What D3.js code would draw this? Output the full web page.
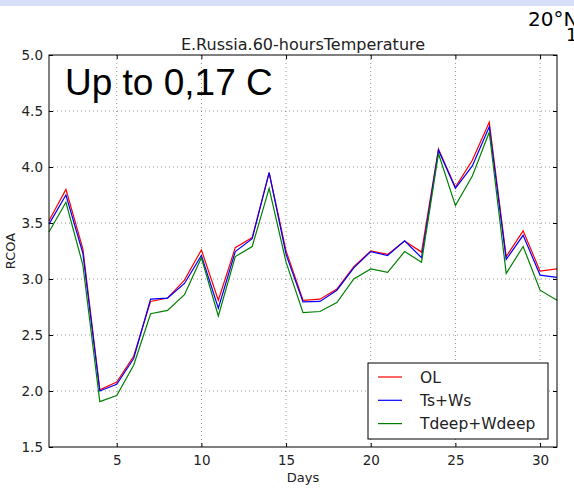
<!DOCTYPE html>
<html>
<head>
<meta charset="utf-8">
<script src="https://d3js.org/d3.v7.min.js"></script>
<style>
  body { margin: 0; background: #fff; }
  svg { display: block; font-family: "DejaVu Sans", sans-serif; }
</style>
</head>
<body>
<div id="chart"></div>
<script>

// Données (jours 1 à 31)
var jours = d3.range(1, 32);
var serieOL = [3.52, 3.80, 3.27, 2.01, 2.08, 2.31, 2.80, 2.83, 2.99, 3.26, 2.81, 3.28, 3.37, 3.95, 3.25, 2.81,
               2.82, 2.91, 3.11, 3.25, 3.22, 3.34, 3.24, 4.16, 3.82, 4.06, 4.40, 3.20, 3.43, 3.07, 3.09];
var serieTsWs = [3.49, 3.75, 3.23, 2.00, 2.06, 2.29, 2.82, 2.83, 2.96, 3.21, 2.74, 3.245, 3.36, 3.95, 3.22, 2.795,
                 2.80, 2.90, 3.10, 3.245, 3.21, 3.34, 3.19, 4.15, 3.81, 4.01, 4.36, 3.175, 3.39, 3.035, 3.015];
var serieTdeep = [3.42, 3.685, 3.125, 1.905, 1.96, 2.23, 2.69, 2.72, 2.86, 3.19, 2.67, 3.20, 3.29, 3.81, 3.15, 2.70,
                  2.71, 2.79, 3.00, 3.09, 3.06, 3.245, 3.15, 4.12, 3.655, 3.92, 4.31, 3.05, 3.29, 2.90, 2.81];
var noms = ["OL", "Ts+Ws", "Tdeep+Wdeep"];
var couleurs = ["#ff0000", "#0000ff", "#008000"];
var xTicks = [5, 10, 15, 20, 25, 30];
var yTicks = [1.5, 2.0, 2.5, 3.0, 3.5, 4.0, 4.5, 5.0];

var largeur = 574, hauteur = 492;
var gauche = 49, droite = 557, haut = 55, bas = 447;

var svg = d3.select("#chart").append("svg")
  .attr("width", largeur)
  .attr("height", hauteur);

svg.append("rect").attr("width", largeur).attr("height", hauteur).attr("fill", "#fff");
// bandeau bleu clair en haut
svg.append("rect").attr("width", largeur).attr("height", 6).attr("fill", "#d6dff7");

var x = d3.scaleLinear().domain([1, 31]).range([gauche, droite]);
var y = d3.scaleLinear().domain([1.5, 5]).range([bas, haut]);

// grille pointillée
var grille = svg.append("g").attr("stroke", "#000").attr("stroke-width", 0.6)
  .attr("stroke-dasharray", "1,3").attr("opacity", 0.7);
grille.selectAll(".gx").data(xTicks).enter().append("line")
  .attr("x1", d => x(d)).attr("x2", d => x(d)).attr("y1", haut).attr("y2", bas);
grille.selectAll(".gy").data(yTicks.slice(1, -1)).enter().append("line")
  .attr("y1", d => y(d)).attr("y2", d => y(d)).attr("x1", gauche).attr("x2", droite);

// axes (graduations vers l'intérieur)
function styleAxe(g) {
  g.select(".domain").remove();
  g.selectAll("text").attr("fill", "#222").style("font-size", "13.5px")
    .style("font-family", "DejaVu Sans, sans-serif");
  g.selectAll("line").attr("stroke", "#000");
}
svg.append("g").attr("transform", "translate(0," + bas + ")")
  .call(d3.axisBottom(x).tickValues(xTicks).tickSize(-4).tickPadding(8)).call(styleAxe);
svg.append("g").attr("transform", "translate(0," + haut + ")")
  .call(d3.axisTop(x).tickValues(xTicks).tickSize(-4).tickFormat("")).call(styleAxe);
svg.append("g").attr("transform", "translate(" + gauche + ",0)")
  .call(d3.axisLeft(y).tickValues(yTicks).tickSize(-4).tickPadding(6).tickFormat(d3.format(".1f"))).call(styleAxe);
svg.append("g").attr("transform", "translate(" + droite + ",0)")
  .call(d3.axisRight(y).tickValues(yTicks).tickSize(-4).tickFormat("")).call(styleAxe);

// courbes
var ligne = d3.line().x((d, i) => x(jours[i])).y(d => y(d));
[serieOL, serieTsWs, serieTdeep].forEach(function(s, i) {
  svg.append("path").datum(s)
    .attr("d", ligne)
    .attr("fill", "none")
    .attr("stroke", couleurs[i])
    .attr("stroke-width", 1.2);
});

// cadre
svg.append("rect").attr("x", gauche).attr("y", haut)
  .attr("width", droite - gauche).attr("height", bas - haut)
  .attr("fill", "none").attr("stroke", "#000").attr("stroke-width", 1);

// textes
svg.append("text").attr("x", (gauche + droite) / 2).attr("y", 50)
  .attr("text-anchor", "middle").style("font-size", "16px").attr("fill", "#222")
  .text("E.Russia.60-hoursTemperature");
svg.append("text").attr("x", (gauche + droite) / 2).attr("y", 482)
  .attr("text-anchor", "middle").style("font-size", "13px").attr("fill", "#222")
  .text("Days");
svg.append("text").attr("transform", "translate(15," + (haut + bas) / 2 + ") rotate(-90)")
  .attr("text-anchor", "middle").style("font-size", "13px").attr("fill", "#222")
  .text("RCOA");
svg.append("text").attr("x", 65).attr("y", 95)
  .style("font-family", "Liberation Sans, Arial, sans-serif").style("font-size", "37px")
  .text("Up to 0,17 C");
svg.append("text").attr("x", 528).attr("y", 26).style("font-size", "20px").text("20°N");
svg.append("text").attr("x", 566).attr("y", 41).style("font-size", "18px").text("1");

// légende
var leg = svg.append("g");
leg.append("rect").attr("x", 368).attr("y", 363).attr("width", 180).attr("height", 76)
  .attr("fill", "#fff").attr("stroke", "#000").attr("stroke-width", 1);
noms.forEach(function(n, i) {
  var yy = 377 + i * 23.3;
  leg.append("line").attr("x1", 378).attr("x2", 402).attr("y1", yy).attr("y2", yy)
    .attr("stroke", couleurs[i]).attr("stroke-width", 1.2);
  leg.append("text").attr("x", 420).attr("y", yy + 5.5).style("font-size", "15.5px")
    .attr("fill", "#222").text(n);
});

</script>
</body>
</html>
